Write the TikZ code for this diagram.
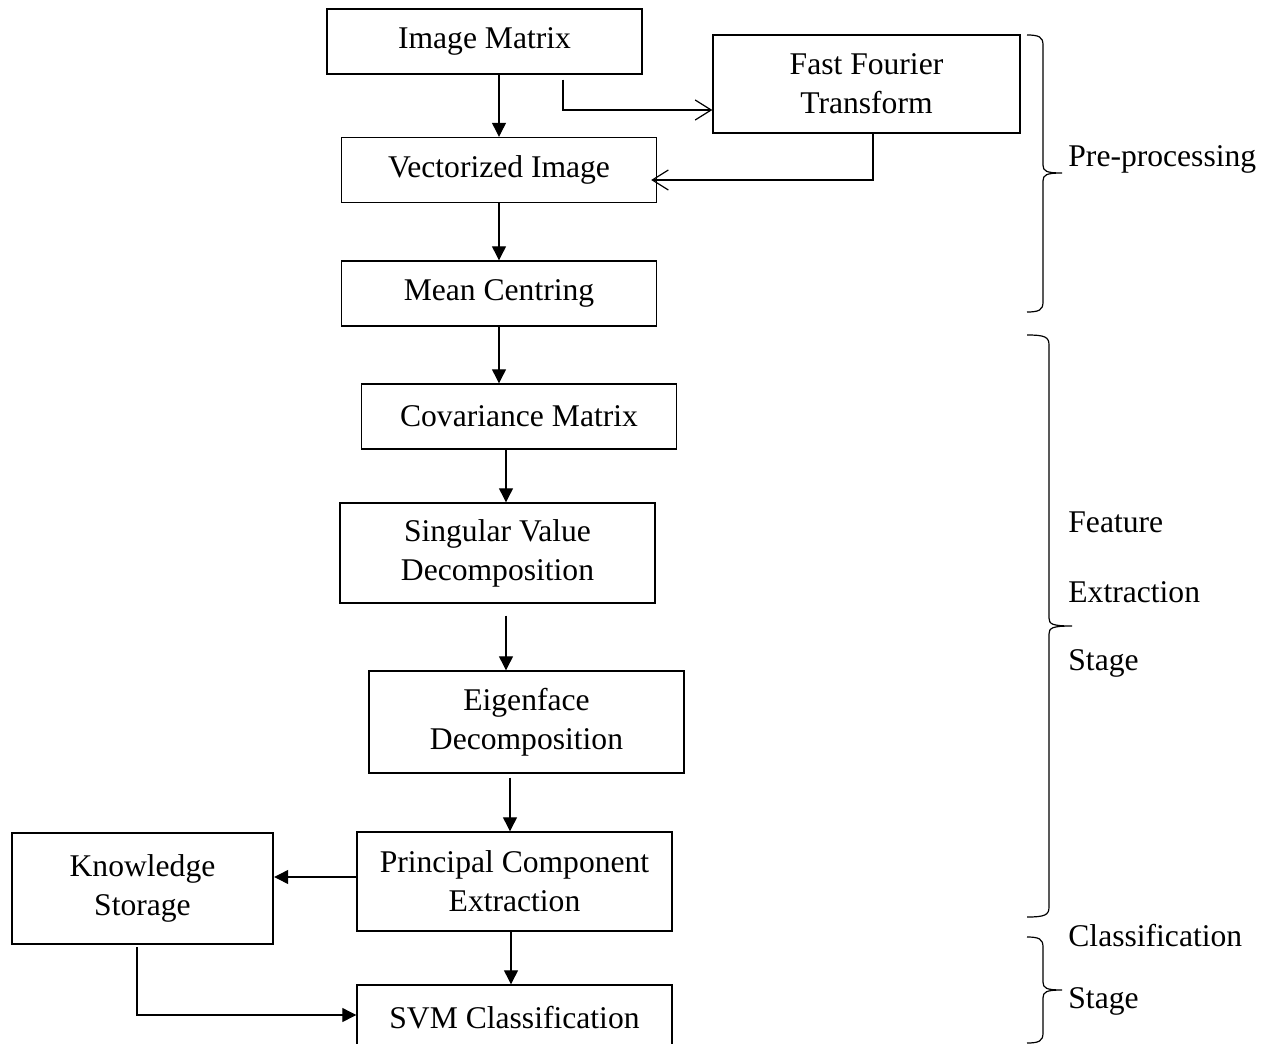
\documentclass[tikz,border=0pt]{standalone}
\usepackage{fontspec}
\setmainfont{Liberation Serif}
\usetikzlibrary{arrows.meta,calc}

\tikzset{
  stepbox/.style={draw, line width=0.7pt, align=center, minimum width=157.5pt, minimum height=32.5pt},
  arr/.style={-{Triangle[length=7pt,width=7pt]}, line width=0.6pt},
  barb/.style={-{Straight Barb[length=8pt,width=10pt]}, line width=0.6pt},
  stagelbl/.style={anchor=base west, inner sep=0pt},
}

% brace: x left end, x of stem, x of tip, y top, y middle, y bottom
\newcommand{\stagebrace}[6]{%
  \draw[line width=0.6pt] (#1,#4) .. controls (#2-4,#4) and (#2,#4+2) .. (#2,#4+10)
    -- (#2,#5-8) .. controls (#2,#5-2) and (#2+3,#5) .. (#3,#5)
    .. controls (#2+3,#5) and (#2,#5+2) .. (#2,#5+8)
    -- (#2,#6-10) .. controls (#2,#6-2) and (#2-4,#6) .. (#1,#6);
}

\begin{document}
\begin{tikzpicture}[x=0.5pt,y=-0.5pt,font=\fontsize{15.8}{19.5}\selectfont]
\useasboundingbox (0,0) rectangle (1270,1044);
\clip (0,0) rectangle (1270,1044);

% pre-processing
\node[stepbox] (imgmat) at (484.5,41.5) {Image Matrix};
\node[stepbox, minimum width=153.5pt, minimum height=49pt] (fft) at (866.5,84) {Fast Fourier\\Transform};
\node[stepbox] (vec) at (499,170) {Vectorized Image};
\node[stepbox] (mean) at (499,293.5) {Mean Centring};

% feature extraction
\node[stepbox] (cov) at (519,416.5) {Covariance Matrix};
\node[stepbox, minimum height=50pt] (svd) at (497.5,553) {Singular Value\\Decomposition};
\node[stepbox, minimum height=51pt] (eig) at (526.5,722) {Eigenface\\Decomposition};
\node[stepbox, minimum height=49.5pt] (pce) at (514.5,881.5) {Principal Component\\Extraction};

% classification
\node[draw, line width=1.2pt, align=center, minimum width=130.5pt, minimum height=55.5pt] (know) at (142.5,888.5) {Knowledge\\Storage};
\node[stepbox, minimum height=33pt] (svm) at (514.5,1018) {SVM Classification};

% connectors
\draw[arr] (imgmat.south -| vec.north) -- (vec.north);
\draw[barb] ($(imgmat.south)+(78.5,5)$) |- ($(fft.west)+(0,26)$);
\draw[barb] ($(fft.south)+(6.5,0)$) |- ($(vec.east)+(-6,10)$);
\draw[arr] (vec.south) -- (mean.north);
\draw[arr] (mean.south) -- (mean.south |- cov.north);
\draw[arr] (506,0 |- cov.south) -- (506,0 |- svd.north);
\draw[arr, shorten <=6pt] (506,0 |- svd.south) -- (506,0 |- eig.north);
\draw[arr, shorten <=2pt] (510,0 |- eig.south) -- (510,0 |- pce.north);
\draw[arr] ($(pce.west)+(0,-4.5)$) -- ($(pce.west -| know.east)+(0,-4.5)$);
\draw[arr] ($(know.south)+(-5.5,2)$) |- ($(svm.west)+(0,-3)$);
\draw[arr] (pce.south -| 511,0) -- (svm.north -| 511,0);

% stage braces
\stagebrace{1027}{1043}{1062}{35}{173}{312}
\stagebrace{1027}{1049}{1072}{335}{626}{917}
\stagebrace{1027}{1043}{1062}{937}{990}{1043}

\node[stagelbl] (lblpre) at (1068,166) {Pre-processing};
\node[stagelbl] (lblfeat) at (1068,532) {Feature};
\node[stagelbl] (lblextr) at (1068,602) {Extraction};
\node[stagelbl] (lblstage) at (1068,670) {Stage};
\node[stagelbl] (lblclass) at (1068,946) {Classification};
\node[stagelbl] (lblcstage) at (1068,1008) {Stage};
\end{tikzpicture}
\end{document}
